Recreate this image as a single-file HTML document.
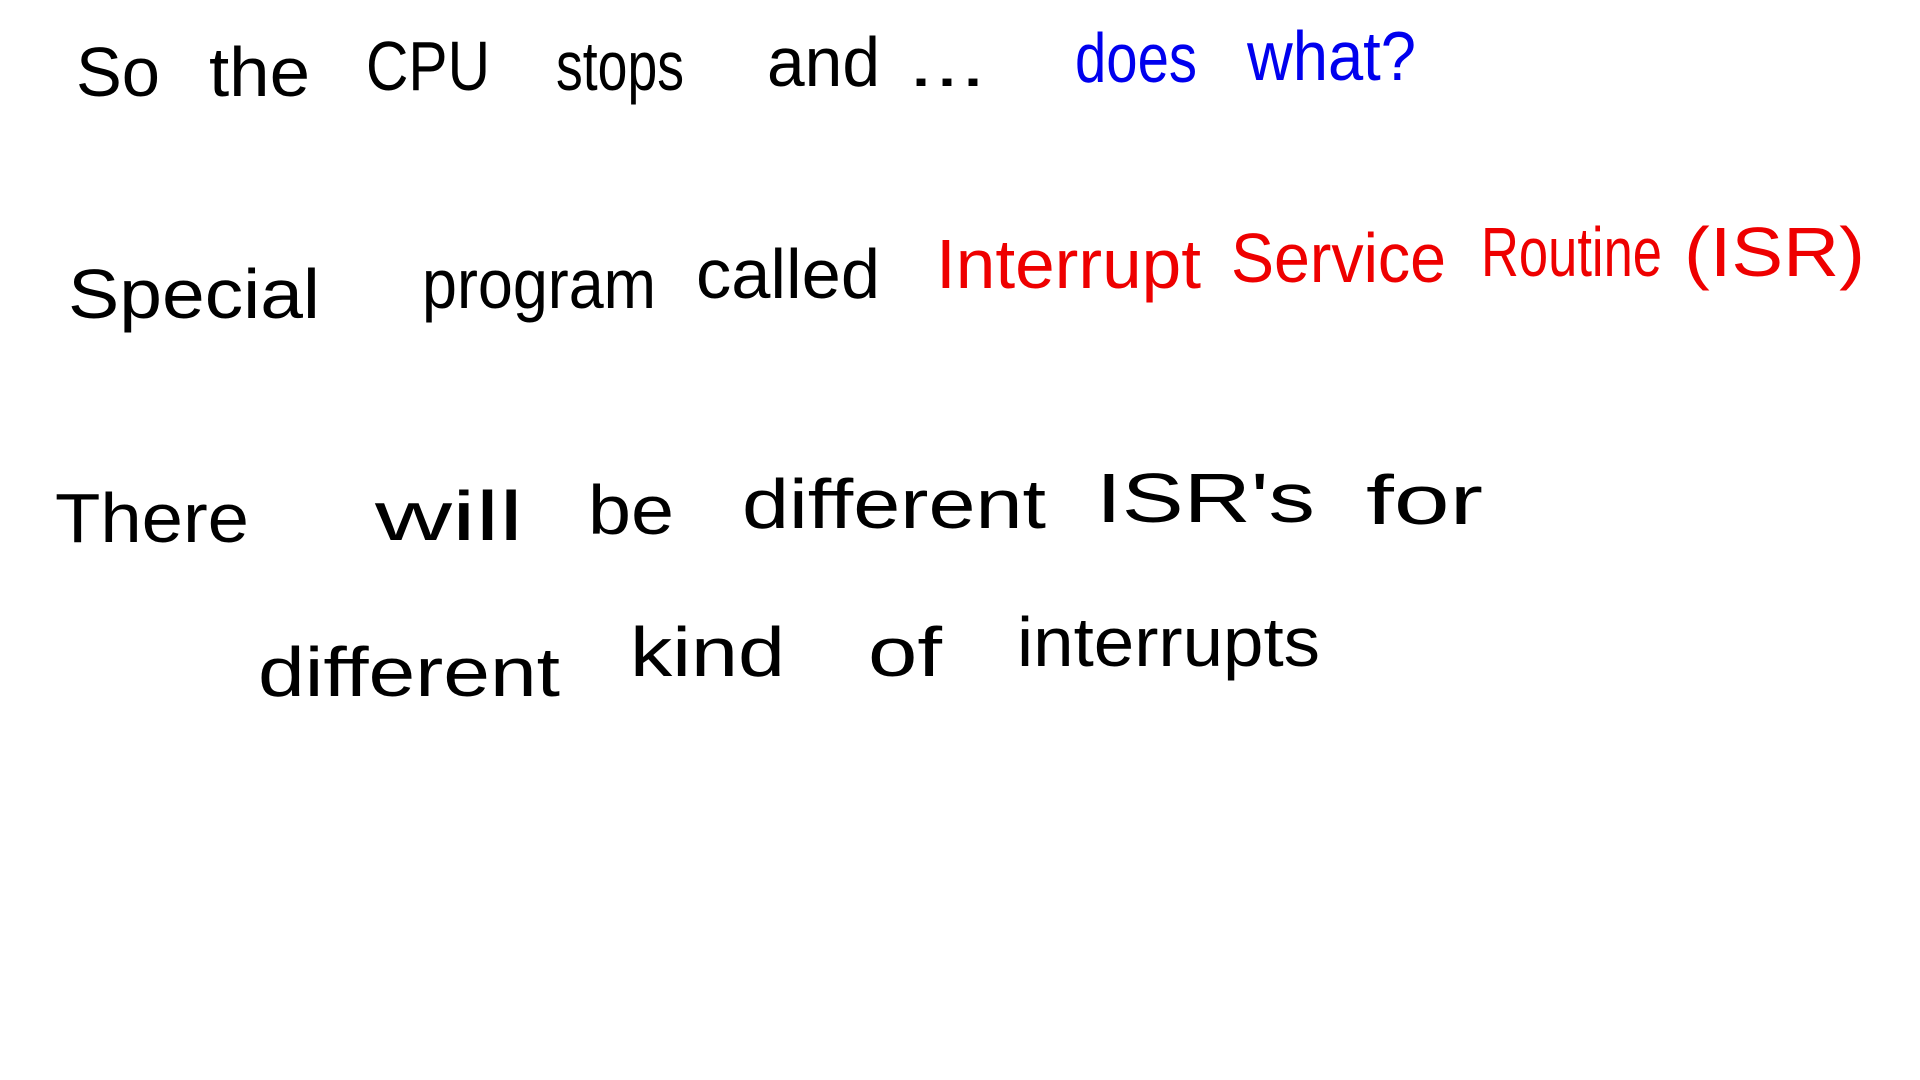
<!DOCTYPE html>
<html><head><meta charset="utf-8"><style>
html,body{margin:0;padding:0;background:#fff;width:1920px;height:1080px;overflow:hidden}
svg text{font-family:"Liberation Sans",sans-serif;font-size:70px;}
</style></head><body>
<svg width="1920" height="1080" xmlns="http://www.w3.org/2000/svg">
<rect width="1920" height="1080" fill="#fff"/>
<g fill="#000">
<text x="76" y="96" textLength="84" lengthAdjust="spacingAndGlyphs">So</text>
<text x="209" y="96" textLength="101" lengthAdjust="spacingAndGlyphs">the</text>
<text x="366" y="90" textLength="124" lengthAdjust="spacingAndGlyphs">CPU</text>
<text x="556" y="90" textLength="128" lengthAdjust="spacingAndGlyphs">stops</text>
<text x="767" y="86" textLength="113" lengthAdjust="spacingAndGlyphs">and</text>
<text x="908" y="86" textLength="78" lengthAdjust="spacingAndGlyphs">...</text>
</g>
<g fill="#0000ee">
<text x="1075" y="82" textLength="122" lengthAdjust="spacingAndGlyphs">does</text>
<text x="1247" y="80" textLength="169" lengthAdjust="spacingAndGlyphs">what?</text>
</g>
<g fill="#000">
<text x="68" y="318" textLength="252" lengthAdjust="spacingAndGlyphs">Special</text>
<text x="422" y="308" textLength="234" lengthAdjust="spacingAndGlyphs">program</text>
<text x="696" y="298" textLength="184" lengthAdjust="spacingAndGlyphs">called</text>
</g>
<g fill="#ee0000">
<text x="936" y="288" textLength="265" lengthAdjust="spacingAndGlyphs">Interrupt</text>
<text x="1231" y="282" textLength="215" lengthAdjust="spacingAndGlyphs">Service</text>
<text x="1481" y="276" textLength="181" lengthAdjust="spacingAndGlyphs">Routine</text>
<text x="1684" y="276" textLength="181" lengthAdjust="spacingAndGlyphs">(ISR)</text>
</g>
<g fill="#000">
<text x="55" y="542" textLength="194" lengthAdjust="spacingAndGlyphs">There</text>
<text x="375" y="540" textLength="148" lengthAdjust="spacingAndGlyphs">will</text>
<text x="588" y="534" textLength="86" lengthAdjust="spacingAndGlyphs">be</text>
<text x="742" y="528" textLength="304" lengthAdjust="spacingAndGlyphs">different</text>
<text x="1096" y="522" textLength="219" lengthAdjust="spacingAndGlyphs">ISR's</text>
<text x="1366" y="524" textLength="117" lengthAdjust="spacingAndGlyphs">for</text>
<text x="258" y="696" textLength="302" lengthAdjust="spacingAndGlyphs">different</text>
<text x="630" y="676" textLength="155" lengthAdjust="spacingAndGlyphs">kind</text>
<text x="868" y="676" textLength="74" lengthAdjust="spacingAndGlyphs">of</text>
<text x="1017" y="666" textLength="303" lengthAdjust="spacingAndGlyphs">interrupts</text>
</g>
</svg>
</body></html>
